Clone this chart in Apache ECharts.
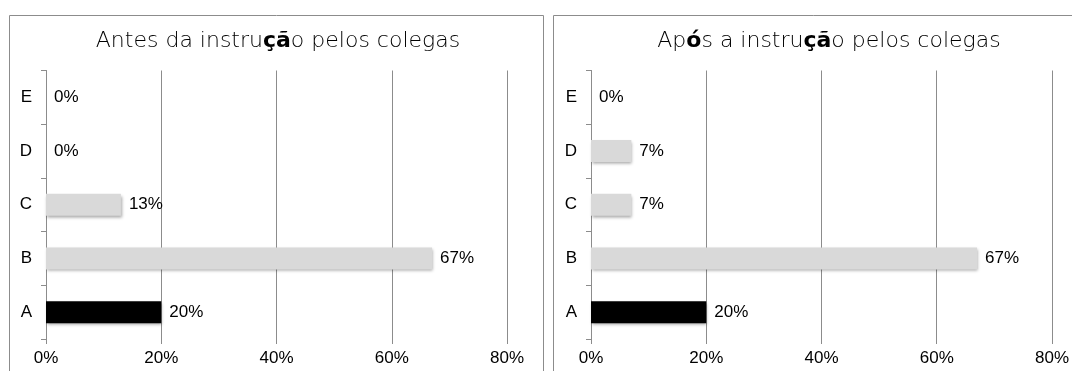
<!DOCTYPE html>
<html>
<head>
<meta charset="utf-8">
<script src="https://cdn.jsdelivr.net/npm/echarts@6/dist/echarts.min.js"></script>
<style>
  html, body { margin: 0; padding: 0; background: #fff; }
  #chart { width: 1072px; height: 371px; }
</style>
</head>
<body>
<div id="chart"></div>
<script>
// respostas (percentagem)
var categories = ['A', 'B', 'C', 'D', 'E'];
var antes = [20, 67, 13, 0, 0];
var apos = [20, 67, 7, 7, 0];
var xTicks = [0, 20, 40, 60, 80];
var correta = 'A';

var myChart = echarts.init(document.getElementById('chart'));

function barData(values) {
    return values.map(function (v, i) {
        return {
            value: v,
            itemStyle: { color: categories[i] == correta ? '#000000' : '#d9d9d9' }
        };
    });
}

function yAxisCfg(idx) {
    return {
        type: 'category',
        gridIndex: idx,
        data: categories,
        axisLine: { show: true, lineStyle: { color: '#8c8c8c', width: 1 } },
        axisTick: { show: true, length: 5, lineStyle: { color: '#8c8c8c' } },
        axisLabel: { color: '#000', fontSize: 17, fontFamily: 'Liberation Sans', margin: 14 }
    };
}

function xAxisCfg(idx) {
    return {
        type: 'value',
        gridIndex: idx,
        min: xTicks[0],
        max: xTicks[xTicks.length - 1],
        interval: 20,
        axisLine: { show: false },
        axisTick: { show: true, length: 5, lineStyle: { color: '#8c8c8c' } },
        splitLine: { show: true, lineStyle: { color: '#8c8c8c', width: 1 } },
        axisLabel: {
            color: '#000', fontSize: 17, fontFamily: 'Liberation Sans', margin: 11,
            formatter: function (v) { return v + '%'; }
        }
    };
}

function serieCfg(idx, values) {
    return {
        type: 'bar',
        xAxisIndex: idx,
        yAxisIndex: idx,
        barWidth: 22,
        data: barData(values),
        itemStyle: {
            shadowColor: 'rgba(0,0,0,0.35)',
            shadowBlur: 3,
            shadowOffsetX: 1,
            shadowOffsetY: 2
        },
        label: {
            show: true,
            position: 'right',
            distance: 8,
            color: '#000',
            fontSize: 17,
            fontFamily: 'Liberation Sans',
            formatter: function (p) { return p.value + '%'; }
        }
    };
}

var titleRich = {
    n: { fontSize: 22, fontWeight: 200, fontFamily: 'DejaVu Sans', color: '#000' },
    b: { fontSize: 22, fontWeight: 'bold', fontFamily: 'DejaVu Sans', color: '#000' }
};

var option = {
    animation: false,
    title: [
        {
            text: '{n|Antes da instru}{b|çã}{n|o pelos colegas}',
            left: 273, top: 25, textAlign: 'center',
            textStyle: { rich: titleRich }
        },
        {
            text: '{n|Ap}{b|ó}{n|s a instru}{b|çã}{n|o pelos colegas}',
            left: 824, top: 25, textAlign: 'center',
            textStyle: { rich: titleRich }
        }
    ],
    graphic: [
        { type: 'rect', shape: { x: 9.5, y: 15.5, width: 534, height: 420 }, style: { fill: 'none', stroke: '#8c8c8c', lineWidth: 1 }, z: -1 },
        { type: 'rect', shape: { x: 553.5, y: 15.5, width: 540, height: 420 }, style: { fill: 'none', stroke: '#8c8c8c', lineWidth: 1 }, z: -1 }
    ],
    grid: [
        { left: 46, top: 70.5, width: 461, height: 268.5 },
        { left: 591, top: 70.5, width: 461, height: 268.5 }
    ],
    xAxis: [xAxisCfg(0), xAxisCfg(1)],
    yAxis: [yAxisCfg(0), yAxisCfg(1)],
    series: [serieCfg(0, antes), serieCfg(1, apos)]
};

myChart.setOption(option);
</script>
</body>
</html>
